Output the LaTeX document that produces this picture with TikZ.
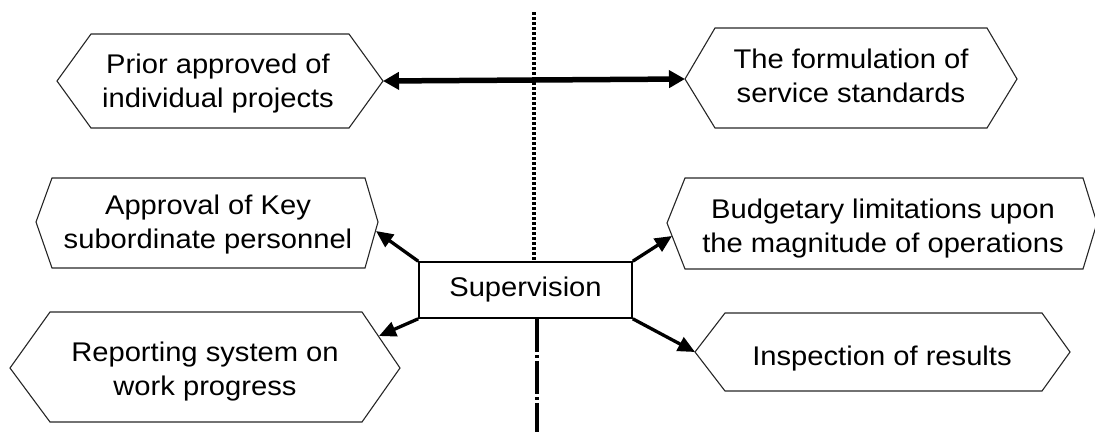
\documentclass[tikz,border=0pt]{standalone}
\usepackage{fontspec}
\setmainfont{Liberation Sans}[FakeStretch=1.08]
\usetikzlibrary{arrows.meta}
\begin{document}
\begin{tikzpicture}[x=1pt,y=-1pt,
  hexline/.style={draw=black!85, line width=1.1pt, line join=miter},
  txt/.style={align=center, font=\fontsize{27}{34}\selectfont, inner sep=0pt, anchor=base},
  conn/.style={line width=3.3pt, -{Triangle[length=17pt,width=15pt]}},
  dbl/.style={line width=5.5pt, {Triangle[length=16pt,width=17pt]}-{Triangle[length=16pt,width=17pt]}},
  supbox/.style={draw, line width=1.6pt, minimum width=213pt, minimum height=56pt, inner sep=0pt, font=\fontsize{27}{34}\selectfont},
]
\useasboundingbox (0,0) rectangle (1095,432);

% hexagons
\draw[hexline] (57,81) -- (91,34) -- (349,34) -- (383,81) coordinate (h1r) -- (349,128) -- (91,128) -- cycle;
\draw[hexline] (685,79) coordinate (h2l) -- (715,28) -- (987,28) -- (1017,79) -- (987,128) -- (715,128) -- cycle;
\draw[hexline] (36,222) -- (52,178) -- (365,178) -- (378,222) -- (365,268) -- (52,268) -- cycle;
\draw[hexline] (667,223) -- (685,178) -- (1083,178) -- (1097,223) -- (1083,269) -- (685,269) -- cycle;
\draw[hexline] (10,368) -- (50,312) -- (362,312) -- (400,368) -- (362,422) -- (50,422) -- cycle;
\draw[hexline] (695,352) coordinate (h6l) -- (725,313) -- (1042,313) -- (1070,352) -- (1042,391) -- (725,391) -- cycle;

\coordinate (h3e) at (376,231);
\coordinate (h4e) at (672,236);
\coordinate (h5e) at (379,336);

% texts (anchor base = last line's baseline)
\node[txt] (t1) at (218,107) {Prior approved of\\individual projects};
\node[txt] (t2) at (851,102) {The formulation of\\service standards};
\node[txt] (t3) at (208,248) {Approval of Key\\subordinate personnel};
\node[txt] (t4) at (883,252) {Budgetary limitations upon\\the magnitude of operations};
\node[txt] (t5) at (205,395) {Reporting system on\\work progress};
\node[txt] (t6) at (882,365) {Inspection of results};

% supervision
\node[supbox] (sup) at (525.5,290) {Supervision};

% vertical lines
\coordinate (vtop) at (534,12);
\coordinate (vbot) at (537,432);
\draw[line width=4.5pt, dash pattern=on 3pt off 2pt] (vtop) -- (vtop |- sup.north);
\draw[line width=4pt, dash pattern=on 33pt off 3pt on 3pt off 3pt] (vbot |- sup.south) -- (vbot);

% connectors
\draw[dbl] (h1r) -- (h2l);
\draw[conn] (sup.north west) -- (h3e);
\draw[conn] (sup.north east) -- (h4e);
\draw[conn] (sup.south west) -- (h5e);
\draw[conn] (sup.south east) -- (h6l);
\end{tikzpicture}
\end{document}
